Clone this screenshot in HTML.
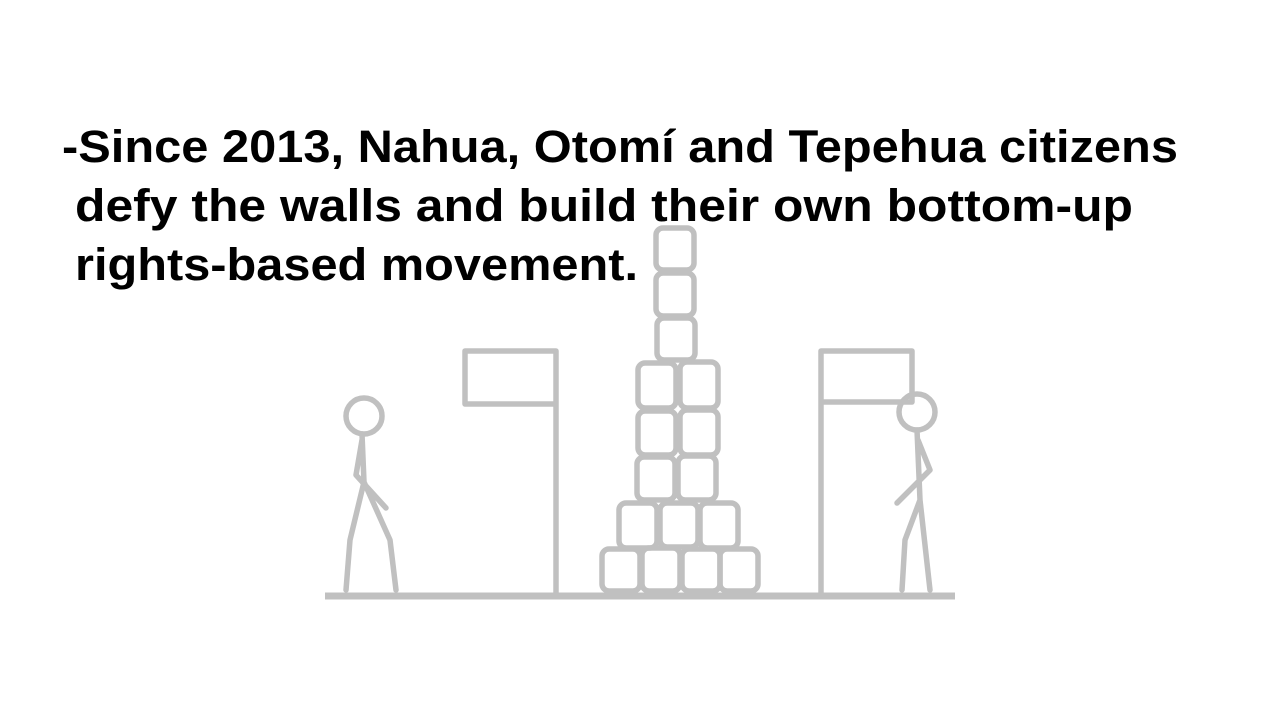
<!DOCTYPE html>
<html><head><meta charset="utf-8"><style>
html,body{margin:0;padding:0;background:#fff;width:1280px;height:720px;overflow:hidden}
svg{display:block}
</style></head><body>
<svg width="1280" height="720" viewBox="0 0 1280 720">
<g font-family="'Liberation Sans', sans-serif" font-weight="bold" font-size="45" fill="#000">
<text x="62" y="162" textLength="1116" lengthAdjust="spacingAndGlyphs">-Since 2013, Nahua, Otomí and Tepehua citizens</text>
<text x="75" y="221" textLength="1058" lengthAdjust="spacingAndGlyphs">defy the walls and build their own bottom-up</text>
<text x="75" y="280" textLength="563" lengthAdjust="spacingAndGlyphs">rights-based movement.</text>
</g>
<g fill="none" stroke="#c0c0c0" stroke-width="5.5" stroke-linecap="round" stroke-linejoin="round">
<line x1="325" y1="596" x2="955" y2="596" stroke-width="7" stroke-linecap="butt"/>
<path d="M556 596 V351 H465 V404 H556"/>
<path d="M821 596 V351 H912 V402 H821"/>
<g>
<circle cx="364" cy="416" r="18"/>
<path d="M362 434 L364 482 M364 482 L350 540 L346 590 M364 482 L390 540 L396 590 M362 440 L356 475 L386 508"/>
</g>
<g>
<circle cx="917" cy="412" r="18"/>
<path d="M917 430 L920 500 M920 500 L905 540 L902 590 M920 500 L930 590 M918 440 L930 470 L897 503"/>
</g>
<g>
<rect x="656" y="228" width="38" height="42" rx="7"/>
<rect x="656" y="273" width="38" height="43" rx="7"/>
<rect x="657" y="318" width="38" height="42" rx="7"/>
<rect x="638" y="363" width="38" height="45" rx="7"/>
<rect x="680" y="362" width="38" height="46" rx="7"/>
<rect x="638" y="411" width="38" height="44" rx="7"/>
<rect x="680" y="410" width="38" height="45" rx="7"/>
<rect x="637" y="457" width="38" height="43" rx="7"/>
<rect x="678" y="456" width="38" height="44" rx="7"/>
<rect x="619" y="503" width="38" height="45" rx="7"/>
<rect x="660" y="503" width="38" height="44" rx="7"/>
<rect x="700" y="503" width="38" height="45" rx="7"/>
<rect x="602" y="549" width="38" height="42" rx="7"/>
<rect x="642" y="548" width="38" height="43" rx="7"/>
<rect x="682" y="549" width="38" height="42" rx="7"/>
<rect x="720" y="549" width="38" height="42" rx="7"/>
</g>
</g>
</svg>
</body></html>
